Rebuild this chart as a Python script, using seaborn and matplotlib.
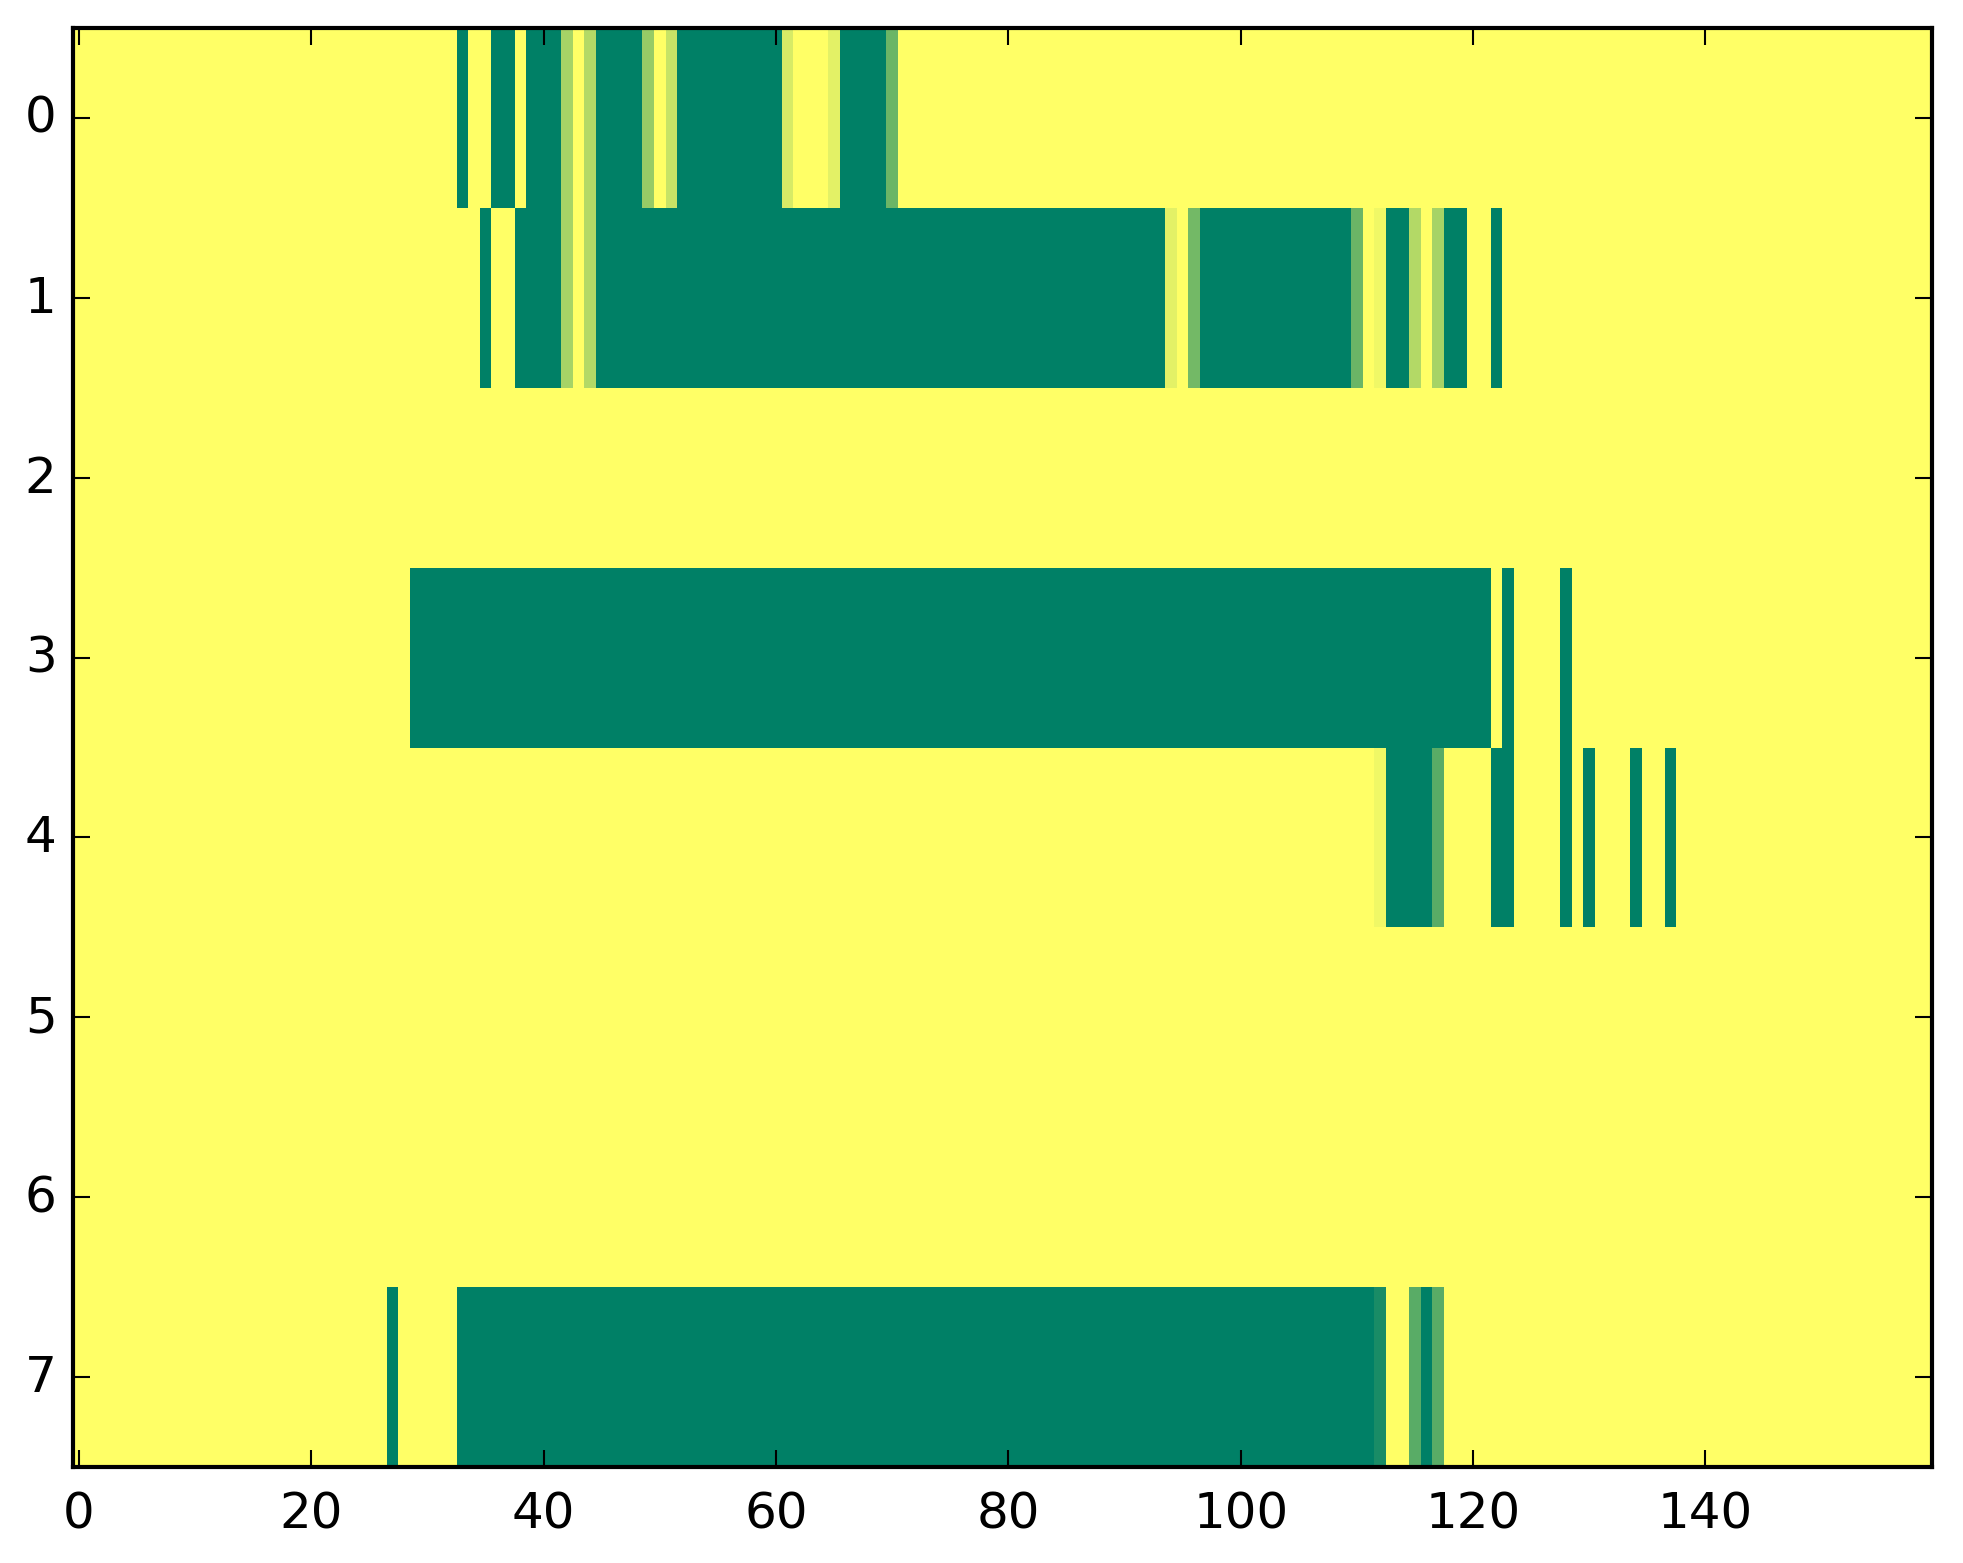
import numpy as np
import pandas as pd
import seaborn as sns
import matplotlib.pyplot as plt

# grid size: 8 rows x 160 columns, values 0 (yellow) .. 1 (green)
n_rows = 8
n_cols = 160

# each row is a list of runs: (first column, last column, value); everything else is 0
row0 = [(33, 33, 1.0), (36, 37, 1.0), (39, 41, 1.0), (42, 42, 0.35), (44, 44, 0.30),
        (45, 48, 1.0), (49, 49, 0.41), (51, 51, 0.22), (52, 60, 1.0), (61, 61, 0.16),
        (65, 65, 0.11), (66, 69, 1.0), (70, 70, 0.58)]
row1 = [(35, 35, 1.0), (38, 41, 1.0), (42, 42, 0.35), (44, 44, 0.30), (45, 93, 1.0),
        (94, 94, 0.11), (96, 96, 0.55), (97, 109, 1.0), (110, 110, 0.58), (112, 112, 0.06),
        (113, 114, 1.0), (115, 115, 0.30), (117, 117, 0.35), (118, 119, 1.0), (122, 122, 1.0)]
row2 = []
row3 = [(29, 121, 1.0), (123, 123, 1.0), (128, 128, 1.0)]
row4 = [(112, 112, 0.06), (113, 116, 1.0), (117, 117, 0.65), (122, 123, 1.0),
        (128, 128, 1.0), (130, 130, 1.0), (134, 134, 1.0), (137, 137, 1.0)]
row5 = []
row6 = []
row7 = [(27, 27, 1.0), (33, 111, 1.0), (112, 112, 0.9), (115, 115, 0.65),
        (116, 116, 1.0), (117, 117, 0.65)]

rows = [row0, row1, row2, row3, row4, row5, row6, row7]

x_ticks = list(range(0, 160, 20))
y_ticks = list(range(n_rows))

grid = np.zeros((n_rows, n_cols))
for r, runs in enumerate(rows):
    for start, stop, val in runs:
        grid[r, start:stop + 1] = val
df = pd.DataFrame(grid)

W, H = 1963, 1564
fig = plt.figure(figsize=(W / 300, H / 300), dpi=300)
ax = fig.add_axes([73.2 / W, 1 - 1468 / H, (1932 - 73.2) / W, (1468 - 29) / H])

sns.heatmap(df, cmap='summer_r', vmin=0, vmax=1, cbar=False, ax=ax)

# classic matplotlib look: full frame, inward ticks on every side
for s in ax.spines.values():
    s.set_visible(True)
    s.set_linewidth(1.0)
    s.set_color('black')

ax.set_xticks([t + 0.5 for t in x_ticks])
ax.set_xticklabels([str(t) for t in x_ticks], rotation=0, fontsize=12)
ax.set_yticks([t + 0.5 for t in y_ticks])
ax.set_yticklabels([str(t) for t in y_ticks], rotation=0, fontsize=12)
ax.tick_params(direction='in', top=True, right=True, length=4, width=0.5,
               colors='black')
ax.tick_params(axis='x', pad=5.5)
ax.tick_params(axis='y', pad=4)
ax.set_xlabel('')
ax.set_ylabel('')

fig.savefig('out.png', dpi=300)
